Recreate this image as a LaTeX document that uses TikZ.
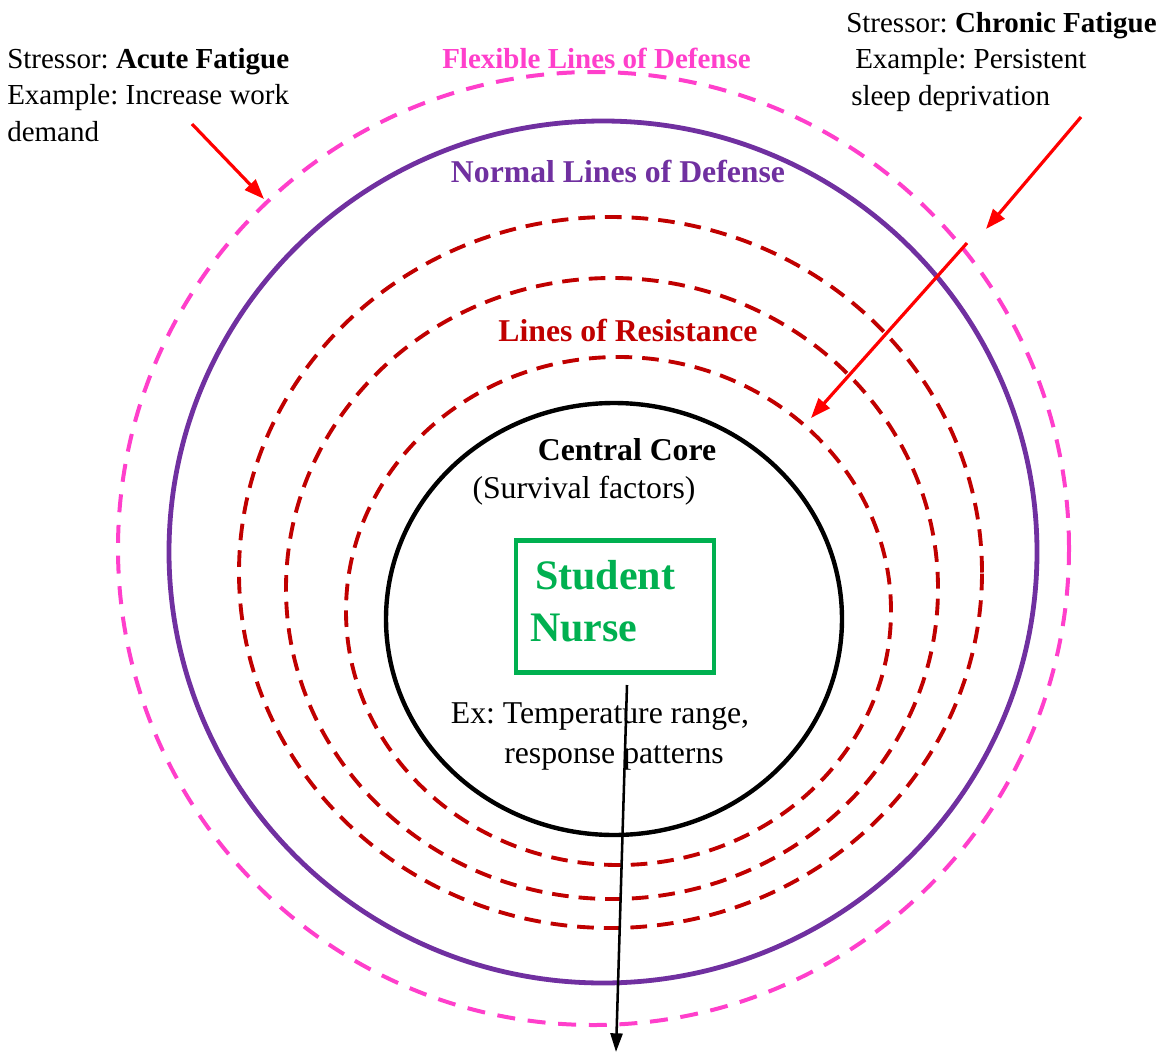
\documentclass[tikz,border=0pt]{standalone}
\usepackage{fontspec}
\setmainfont{Liberation Serif}
\usepackage{tikz}
\usepackage{xcolor}
\usetikzlibrary{
    arrows.meta,
    calc,
    positioning
}
\frenchspacing
\definecolor{flexpink}{HTML}{FF3FCB}
\definecolor{normpurple}{HTML}{7030A0}
\definecolor{resred}{HTML}{C00000}
\definecolor{nursegreen}{HTML}{00B050}
\definecolor{stressred}{HTML}{FF0000}
\newcommand{\outersize}{\fontsize{21.75}{27.4}\selectfont}
\newcommand{\innersize}{\fontsize{23.8}{29.5}\selectfont}
\newcommand{\nursesize}{\fontsize{31.5}{39}\selectfont}

\begin{document}
\begin{tikzpicture}[x=0.75pt, y=0.75pt,
    flexline/.style={draw=flexpink, line width=3pt, dash pattern=on 13.5pt off 9.5pt},
    normline/.style={draw=normpurple, line width=3.6pt},
    resline/.style={draw=resred, line width=2.9pt, dash pattern=on 12.5pt off 7.5pt},
    coreline/.style={draw=black, line width=3.3pt},
    stressor/.style={stressred, line width=2.4pt, -{Triangle[length=15pt, width=11pt]}},
    outertext/.style={inner sep=0pt, font=\outersize, align=left},
    innertext/.style={inner sep=0pt, font=\innersize}
]
    \useasboundingbox (0, 0) rectangle (1171, -1053);

    % rings, outside in
    \draw[flexline] (593.5, -548.5) ellipse [x radius=475.5, y radius=476.5];
    \draw[normline] (603, -552) ellipse [x radius=434, y radius=431];
    \draw[resline] (610.5, -572.5) ellipse [x radius=371.5, y radius=355.5];
    \draw[resline] (612, -588.5) ellipse [x radius=326, y radius=310.5];
    \draw[resline] (618.5, -611) ellipse [x radius=272.5, y radius=254];
    \draw[coreline] (614, -619) ellipse [x radius=228, y radius=216];

    % ring labels
    \node[innertext, font=\outersize\bfseries, text=flexpink, anchor=base] (flexLabel) at (596.5, -68) {Flexible Lines of Defense};
    \node[innertext, font=\innersize\bfseries, text=normpurple, anchor=base] (normLabel) at (618, -182) {Normal Lines of Defense};
    \node[innertext, font=\innersize\bfseries, text=resred, anchor=base] (resLabel) at (628, -341) {Lines of Resistance};
    \node[innertext, font=\innersize\bfseries, anchor=base] (coreLabel) at (627, -460) {Central Core};
    \node[innertext, anchor=base] (coreNote) at (584, -498) {(Survival factors)};
    \node[innertext, anchor=base] (exA) at (600, -723) {Ex: Temperature range,};
    \node[innertext, anchor=base] (exB) at (614, -763) {response patterns};

    % student nurse box
    \node[draw=nursegreen, line width=3.5pt, minimum width=148.5pt, minimum height=99pt] (nurseBox) at (615, -606.5) {};
    \node[inner sep=0pt, font=\nursesize\bfseries, text=nursegreen, align=left, anchor=base west] (nurse) at (530, -641) {\hspace*{3.75pt}Student\\Nurse};

    % stressor texts
    \node[outertext, anchor=north west] (acute) at (7, -48) {Stressor: \textbf{Acute Fatigue}\\Example: Increase work\\demand};
    \node[outertext, anchor=north west] (chronic) at (846, -12) {Stressor: \textbf{Chronic Fatigue}\\\hspace*{6.75pt}Example: Persistent\\\hspace*{3.75pt}sleep deprivation};

    % arrow ends
    \coordinate (acuteFrom) at (192, -124);
    \coordinate (acuteTo) at (264, -199);
    \coordinate (chronicFrom) at (1081, -117);
    \coordinate (chronicTo) at (986, -229);
    \coordinate (deepFrom) at (967, -243);
    \coordinate (deepTo) at (811, -418);
    \coordinate (coreFrom) at (627, -685);
    \coordinate (coreTo) at (616, -1052);

    \draw[stressor] (acuteFrom) -- (acuteTo);
    \draw[stressor] (chronicFrom) -- (chronicTo);
    \draw[stressor] (deepFrom) -- (deepTo);
    \draw[line width=1.9pt, -{Triangle[length=14pt, width=9pt]}] (coreFrom) -- (coreTo);
\end{tikzpicture}
\end{document}
